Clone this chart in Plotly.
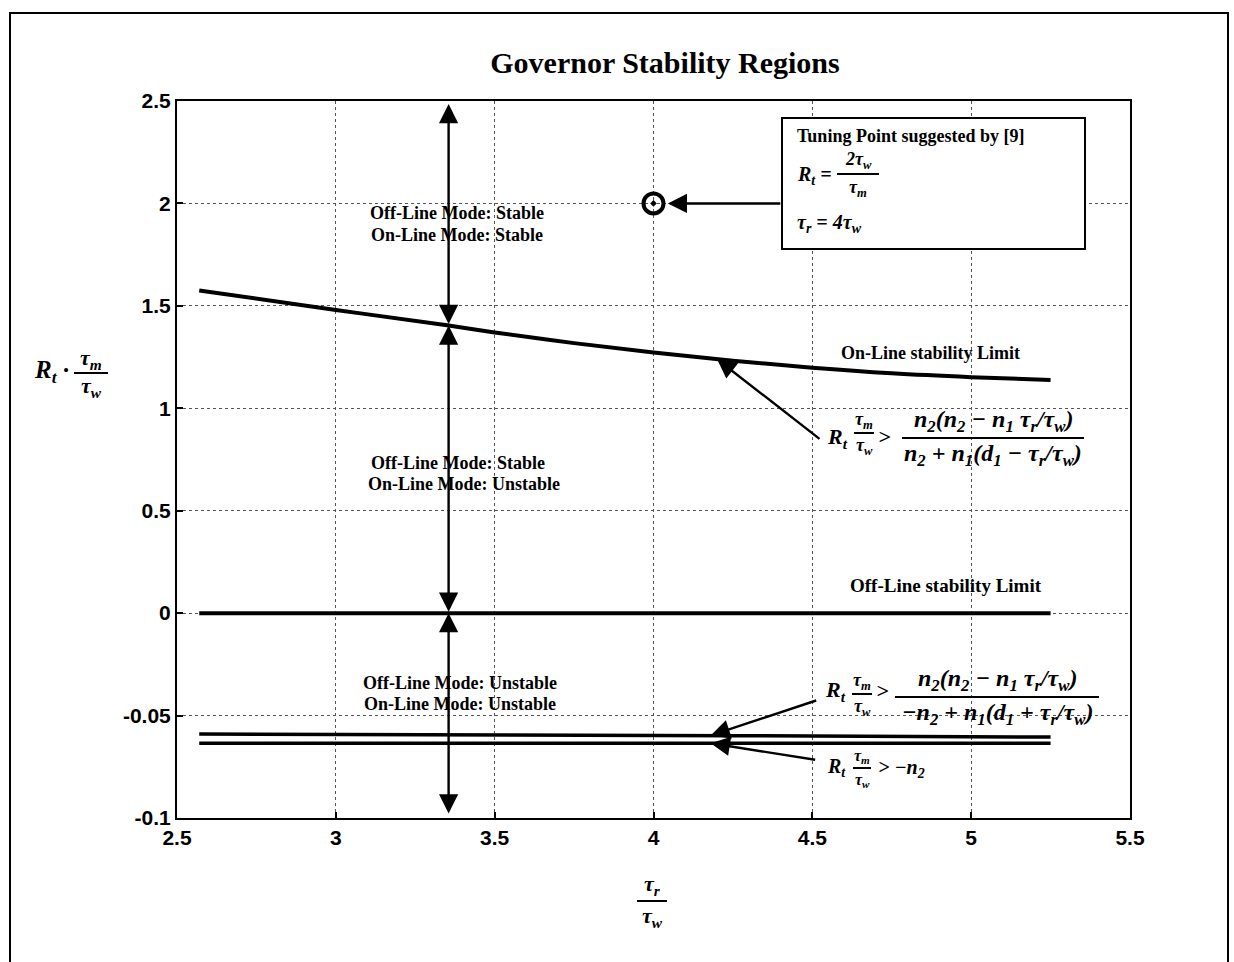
import numpy as np
import plotly.graph_objects as go

# ---------------- data ----------------
x_tick_vals = [2.5, 3, 3.5, 4, 4.5, 5, 5.5]
y_tick_vals = [-0.1, -0.05, 0, 0.5, 1, 1.5, 2, 2.5]
y_tick_text = ["-0.1", "-0.05", "0", "0.5", "1", "1.5", "2", "2.5"]

ratio = [2.57, 3.0, 3.35, 3.5, 3.75, 4.0, 4.25, 4.5, 4.75, 5.0, 5.25]
online_limit = [1.575, 1.48, 1.405, 1.37, 1.318, 1.272, 1.232, 1.198, 1.171, 1.152, 1.138]
offline_limit = [0, 0, 0, 0, 0, 0, 0, 0, 0, 0, 0]
limit_upper_neg = [-0.0590, -0.0591, -0.0592, -0.0593, -0.0594, -0.0596, -0.0598, -0.0600, -0.0602, -0.0604, -0.0605]
limit_minus_n2 = [-0.0635, -0.0635, -0.0635, -0.0635, -0.0635, -0.0635, -0.0635, -0.0635, -0.0635, -0.0635, -0.0635]
tuning_x = [4.0]
tuning_y = [2.0]
region_arrow_x = 3.355
pointer_x = 4.2
pointer_neg_x = 4.18

# ---------------- scale helpers (piecewise y axis) ----------------
def ty(v):
    a = np.asarray(v, dtype=float)
    return np.where(a >= 0, a * 2.0, a * 20.0)

W, H = 1234, 962
PL, PR, PT, PB = 177, 1130, 101, 818

def xp(px):
    return (px - PL) / (PR - PL)

def yp(py):
    return (PB - py) / (PB - PT)

def pos_to_py(p):
    return PB - (p + 2) / 7 * (PB - PT)

SERIF = "Liberation Serif"
SANS = "Liberation Sans"

fig = go.Figure()

fig.add_trace(go.Scatter(x=ratio, y=ty(online_limit), mode="lines",
                         line=dict(color="black", width=4, shape="spline"), hoverinfo="skip"))
fig.add_trace(go.Scatter(x=ratio, y=ty(offline_limit), mode="lines",
                         line=dict(color="black", width=4), hoverinfo="skip"))
fig.add_trace(go.Scatter(x=ratio, y=ty(limit_upper_neg), mode="lines",
                         line=dict(color="black", width=3.5), hoverinfo="skip"))
fig.add_trace(go.Scatter(x=ratio, y=ty(limit_minus_n2), mode="lines",
                         line=dict(color="black", width=3.5), hoverinfo="skip"))
fig.add_trace(go.Scatter(x=tuning_x, y=ty(tuning_y), mode="markers",
                         marker=dict(symbol="circle-open-dot", size=20, color="black",
                                     line=dict(color="black", width=4)),
                         hoverinfo="skip"))

ann = []
shapes = []

def txt(px, py, s, size=17, anchor="center", italic=False, bold=True, family=SERIF):
    ann.append(dict(x=xp(px), y=yp(py), xref="paper", yref="paper", text=s,
                    showarrow=False, xanchor=anchor, yanchor="middle",
                    font=dict(family=family, size=size, color="black",
                              style="italic" if italic else "normal",
                              weight="bold" if bold else "normal")))

def frac(cx, ybar, num, den, hw, size, d=None):
    if d is None:
        d = size * 0.72
    txt(cx, ybar - d, num, size=size, italic=True)
    txt(cx, ybar + d, den, size=size, italic=True)
    shapes.append(dict(type="line", xref="paper", yref="paper",
                       x0=xp(cx - hw), x1=xp(cx + hw), y0=yp(ybar), y1=yp(ybar),
                       line=dict(color="black", width=2)))

# region labels
txt(457, 213, "Off-Line Mode: Stable", size=18)
txt(457, 235, "On-Line Mode: Stable", size=18)
txt(458, 463, "Off-Line Mode: Stable", size=18)
txt(464, 484, "On-Line Mode: Unstable", size=18)
txt(460, 683, "Off-Line Mode: Unstable", size=18)
txt(460, 704, "On-Line Mode: Unstable", size=18)
txt(930, 353, "On-Line stability Limit", size=18)
txt(946, 585, "Off-Line stability Limit", size=19)

# legend box
shapes.append(dict(type="rect", xref="paper", yref="paper",
                   x0=xp(782), x1=xp(1085), y0=yp(118), y1=yp(249),
                   line=dict(color="black", width=2), fillcolor="white", layer="above"))
txt(795, 136, "Tuning Point suggested by [9]", size=18, anchor="left")
txt(795, 175, "R<sub>t</sub> =", size=20, anchor="left", italic=True)
frac(858, 174, "2τ<sub>w</sub>", "τ<sub>m</sub>", 21, 18, d=14)
txt(795, 224, "τ<sub>r</sub> = 4τ<sub>w</sub>", size=20, anchor="left", italic=True)

# y axis label
txt(32, 371, "R<sub>t</sub> ·", size=25, anchor="left", italic=True)
frac(91, 373, "τ<sub>m</sub>", "τ<sub>w</sub>", 17, 22, d=14)
# x axis label
frac(652, 901, "τ<sub>r</sub>", "τ<sub>w</sub>", 15, 22, d=16)

# formula 1
txt(825, 438, "R<sub>t</sub>", size=22, anchor="left", italic=True)
frac(864, 433, "τ<sub>m</sub>", "τ<sub>w</sub>", 10, 18, d=13)
txt(884, 436, ">", size=22, italic=True)
frac(993, 438, "n<sub>2</sub>(n<sub>2</sub> − n<sub>1</sub> τ<sub>r</sub>/τ<sub>w</sub>)",
     "n<sub>2</sub> + n<sub>1</sub>(d<sub>1</sub> − τ<sub>r</sub>/τ<sub>w</sub>)", 91, 24, d=17)

# formula 2
txt(823, 691, "R<sub>t</sub>", size=22, anchor="left", italic=True)
frac(862, 694, "τ<sub>m</sub>", "τ<sub>w</sub>", 10, 18, d=13)
txt(882, 690, ">", size=22, italic=True)
frac(997, 697, "n<sub>2</sub>(n<sub>2</sub> − n<sub>1</sub> τ<sub>r</sub>/τ<sub>w</sub>)",
     "−n<sub>2</sub> + n<sub>1</sub>(d<sub>1</sub> + τ<sub>r</sub>/τ<sub>w</sub>)", 102, 24, d=17)

# formula 3
txt(825, 767, "R<sub>t</sub>", size=20, anchor="left", italic=True)
frac(862, 768, "τ<sub>m</sub>", "τ<sub>w</sub>", 9, 16, d=12)
txt(876, 768, "> −n<sub>2</sub>", size=20, anchor="left", italic=True)

# arrows
def arrow(x, y, ax, ay, both=False, pix=False):
    d = dict(x=x, y=y, xref="x", yref="y", text="", showarrow=True,
             arrowhead=2, arrowsize=1.6, arrowwidth=2.4, arrowcolor="black",
             arrowside="end+start" if both else "end")
    if pix:
        d.update(ax=ax, ay=ay)
    else:
        d.update(ax=ax, ay=ay, axref="x", ayref="y")
    ann.append(d)

y_on_at = float(ty(np.interp(region_arrow_x, ratio, online_limit)))
arrow(region_arrow_x, 4.97, region_arrow_x, y_on_at, both=True)
arrow(region_arrow_x, y_on_at, region_arrow_x, 0.0, both=True)
arrow(region_arrow_x, 0.0, region_arrow_x, -1.97, both=True)

# pointers from formulas
y_p1 = float(ty(np.interp(pointer_x, ratio, online_limit)))
arrow(pointer_x, y_p1, 820 - 716, 440 - pos_to_py(y_p1), pix=True)
y_p2 = float(ty(np.interp(pointer_neg_x, ratio, limit_upper_neg)))
arrow(pointer_neg_x, y_p2, 818 - 711, 700 - pos_to_py(y_p2), pix=True)
y_p3 = float(ty(np.interp(pointer_neg_x, ratio, limit_minus_n2)))
arrow(pointer_neg_x, y_p3, 817 - 711, 760 - pos_to_py(y_p3), pix=True)
# tuning point arrow from box
arrow(4.045, float(ty(2.0)), 782 - 668, 0, pix=True)

# outer frame
shapes.append(dict(type="rect", xref="paper", yref="paper",
                   x0=xp(10), x1=xp(1228), y0=yp(980), y1=yp(13),
                   line=dict(color="black", width=2)))

axis_common = dict(showline=True, linecolor="black", linewidth=2, mirror=True,
                   ticks="inside", ticklen=6, tickcolor="black", tickwidth=1.5,
                   showgrid=True, gridcolor="#555555", gridwidth=1, griddash="dot",
                   zeroline=False,
                   tickfont=dict(family=SANS, size=21, color="black", weight="bold"))

fig.update_layout(
    width=W, height=H,
    margin=dict(l=PL, r=W - PR, t=PT, b=H - PB),
    paper_bgcolor="white", plot_bgcolor="white",
    showlegend=False,
    title=dict(text="<b>Governor Stability Regions</b>", x=665 / W, xanchor="center",
               y=1 - 62 / H, yanchor="middle",
               font=dict(family=SERIF, size=30, color="black")),
    xaxis=dict(range=[2.5, 5.5], tickvals=x_tick_vals,
               ticktext=[f"{v:g}" for v in x_tick_vals], **axis_common),
    yaxis=dict(range=[-2, 5], tickvals=list(ty(y_tick_vals)), ticktext=y_tick_text,
               **axis_common),
    annotations=ann,
    shapes=shapes,
)

fig.write_html("out.html")
